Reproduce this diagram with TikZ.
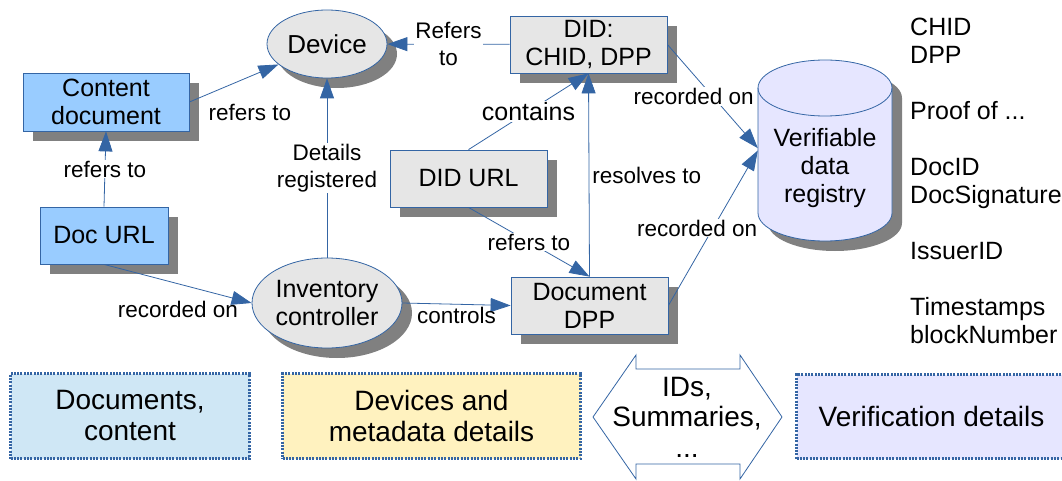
\documentclass[tikz,border=0pt]{standalone}
\usepackage{fontspec}
\setmainfont{Liberation Sans}
\usetikzlibrary{positioning,shapes.geometric,arrows.meta,shadows}

\definecolor{lineblue}{HTML}{3465A4}
\definecolor{docblue}{HTML}{99CCFF}
\definecolor{boxgray}{HTML}{E6E6E6}
\definecolor{shadowgray}{HTML}{808080}
\definecolor{regviolet}{HTML}{E6E6FF}
\definecolor{areablue}{HTML}{CFE7F5}
\definecolor{areayellow}{HTML}{FFF2BF}

\begin{document}
\begin{tikzpicture}[x=1pt, y=-1pt,
    main/.style = {draw=lineblue, fill=boxgray, line width=0.8pt, inner sep=0pt, align=center,
      font=\fontsize{25}{28}\selectfont,
      general shadow={fill=shadowgray, shadow xshift=10pt, shadow yshift=-10pt}},
    doc/.style = {main, fill=docblue},
    dev/.style = {main, ellipse},
    lbl/.style = {font=\fontsize{22.5}{27}\selectfont, inner sep=1pt, align=center},
    arr/.style = {draw=lineblue, line width=0.8pt, -{Triangle[length=20pt,width=14pt]}},
    area/.style = {draw=lineblue, line width=3pt, dash pattern=on 2pt off 1.3pt, inner sep=0pt,
      align=center, font=\fontsize{28}{31}\selectfont},
    cylend/.style = {x radius=67pt, y radius=28pt}]
  \useasboundingbox (0,0) rectangle (1062,481);
  % documents
  \node[doc, minimum width=166pt, minimum height=58pt] (content) at (106,102) {Content\\document};
  \node[doc, minimum width=128pt, minimum height=57pt] (docurl) at (104,235.5) {Doc URL};
  % devices
  \node[dev, minimum width=120pt, minimum height=68pt, font=\fontsize{26}{29}\selectfont] (device) at (327,44) {Device};
  \node[dev, minimum width=150pt, minimum height=90pt] (inv) at (327,303) {Inventory\\controller};
  % DIDs and DPP
  \node[main, minimum width=157pt, minimum height=57pt] (did) at (588.5,44.5) {DID:\\CHID, DPP};
  \node[main, minimum width=157pt, minimum height=57pt] (didurl) at (468.5,178.5) {DID URL};
  \node[main, minimum width=157pt, minimum height=57pt] (dpp) at (589.5,305.5) {Document\\DPP};
  % registry (cylinder drawn by hand)
  \fill[shadowgray, shift={(10,10)}] (758,88) -- (758,213) arc[start angle=180, end angle=360, cylend]
    -- (892,88) arc[start angle=0, end angle=180, cylend] -- cycle;
  \draw[lineblue, line width=0.8pt, fill=regviolet] (758,88) -- (758,213) arc[start angle=180, end angle=360, cylend]
    -- (892,88) arc[start angle=0, end angle=180, cylend] -- cycle;
  \draw[lineblue, line width=0.8pt] (758,88) arc[start angle=180, end angle=360, cylend];
  \node[minimum width=134pt, minimum height=181pt, inner sep=0pt, font=\fontsize{25}{28}\selectfont] (vdr) at (825,150.5)
    {\raisebox{-18pt}[\height][\depth]{\begin{tabular}{@{}c@{}}Verifiable\\data\\registry\end{tabular}}};
  \node[anchor=north west, inner sep=0pt, align=left, font=\fontsize{25}{28}\selectfont] (fields) at (910,18)
    {CHID\\DPP\\[28pt]Proof of ...\\[28pt]DocID\\DocSignature\\[28pt]IssuerID\\[28pt]Timestamps\\blockNumber};

  \draw[arr] (docurl.north) -- node[lbl, fill=white] {refers to} (content.south);
  \draw[arr] (content.east) -- node[lbl, xshift=16pt, yshift=-29pt] {refers to} (device);
  \draw[arr] (inv) -- node[lbl, fill=white] {Details\\registered} (device);
  \draw[arr] (did) -- node[lbl, fill=white] {Refers\\to} (device);
  \draw[arr] (didurl.north) -- node[lbl, fill=white, font=\fontsize{25}{28}\selectfont] {contains} (did.south);
  \draw[arr] (dpp.north) -- node[lbl, right=2pt] {resolves to} (did.south);
  \draw[arr] (didurl.south) -- node[lbl, fill=white] {refers to} (dpp.north);
  \draw[arr] (did.east) -- node[lbl, fill=white, xshift=-19pt] {recorded on} (vdr.178);
  \draw[arr] (dpp.east) -- node[lbl, fill=white, xshift=-16pt] {recorded on} (vdr.west);
  \draw[arr] (docurl.south) -- node[lbl, yshift=-26pt] {recorded on} (inv.west);
  \draw[arr] (inv.east) -- node[lbl, below=2pt] {controls} (dpp.west);

  % legend
  \node[area, fill=areablue, minimum width=239pt, minimum height=85pt] (docs) at (130,416) {Documents,\\content};
  \node[area, fill=areayellow, minimum width=298pt, minimum height=85pt] (devs) at (431.5,416) {Devices and\\metadata details};
  \draw[draw=lineblue, line width=0.8pt, fill=white] (593,417) -- (636,355) -- (636,369) -- (740,369) -- (740,355)
    -- (782,417) -- (740,479) -- (740,464) -- (636,464) -- (636,479) -- cycle;
  \node[inner sep=0pt, align=center, font=\fontsize{28}{30.5}\selectfont] (ids) at (687,417) {IDs,\\Summaries,\\...};
  \node[area, fill=regviolet, minimum width=270pt, minimum height=84pt] (verif) at (931.5,416.5) {Verification details};
\end{tikzpicture}
\end{document}
